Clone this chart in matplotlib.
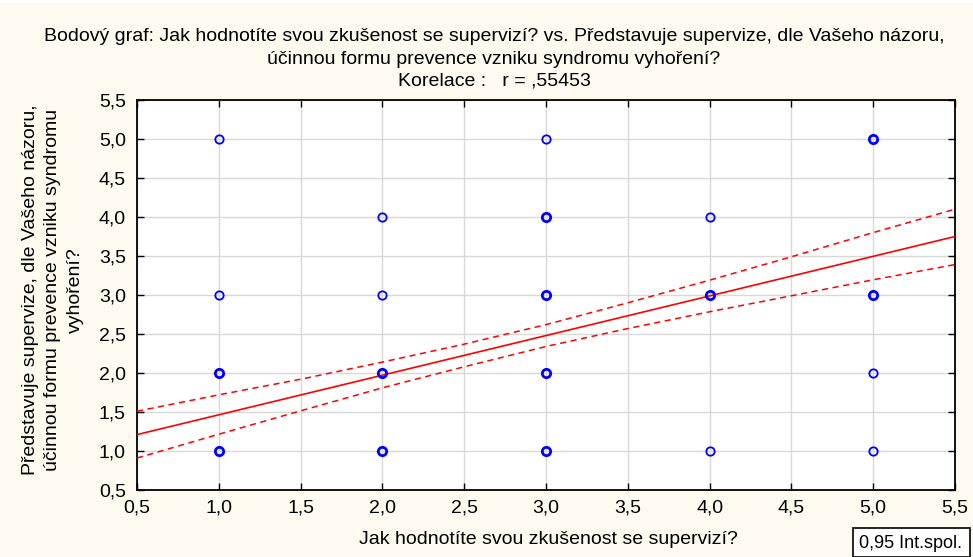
import matplotlib
matplotlib.use("Agg")
import matplotlib.pyplot as plt
from matplotlib.ticker import FuncFormatter, MultipleLocator
from matplotlib.patches import Rectangle

plt.rcParams['font.family'] = ['Liberation Sans', 'DejaVu Sans']

# Observed response combinations (x, y) and whether several responses overlap
pt_x = [1, 1, 1, 1, 2, 2, 2, 2, 3, 3, 3, 3, 3, 4, 4, 4, 5, 5, 5, 5]
pt_y = [5, 3, 2, 1, 4, 3, 2, 1, 5, 4, 3, 2, 1, 4, 3, 1, 5, 3, 2, 1]
pt_n = [1, 1, 2, 2, 1, 1, 2, 2, 1, 2, 2, 2, 2, 1, 2, 1, 2, 2, 1, 1]

# Regression line (read at axis ends)
fit_x = [0.5, 5.5]
fit_y = [1.21, 3.75]

# 0.95 confidence band
ci_x = [0.5, 1.0, 1.5, 2.0, 2.5, 3.0, 3.5, 4.0, 4.5, 5.0, 5.5]
ci_upper = [1.51, 1.72, 1.92, 2.14, 2.37, 2.62, 2.90, 3.19, 3.49, 3.80, 4.10]
ci_lower = [0.91, 1.215, 1.515, 1.81, 2.08, 2.34, 2.57, 2.785, 2.99, 3.195, 3.39]

title = ("Bodový graf: Jak hodnotíte svou zkušenost se supervizí? vs. Představuje supervize, dle Vašeho názoru,\n"
         "účinnou formu prevence vzniku syndromu vyhoření?\n"
         "Korelace :   r = ,55453")
xlabel = "Jak hodnotíte svou zkušenost se supervizí?"
ylabel = ("Představuje supervize, dle Vašeho názoru,\n"
          "účinnou formu prevence vzniku syndromu\n"
          "vyhoření?")
legend_text = "0,95 Int.spol."

W, H = 973, 557
bg = '#FFFAEF'
fig = plt.figure(figsize=(W/100, H/100), dpi=100, facecolor=bg)
fig.patches.append(Rectangle((0, 1 - 3/H), 1, 3/H, transform=fig.transFigure,
                             facecolor='white', edgecolor='none', zorder=0))
ax = fig.add_axes([137/W, 1 - 490/H, (955-137)/W, (490-100)/H])
ax.set_facecolor('white')

ax.set_xlim(0.5, 5.5)
ax.set_ylim(0.5, 5.5)
ax.xaxis.set_major_locator(MultipleLocator(0.5))
ax.yaxis.set_major_locator(MultipleLocator(0.5))
fmt = FuncFormatter(lambda v, p: f"{v:.1f}".replace('.', ','))
ax.xaxis.set_major_formatter(fmt)
ax.yaxis.set_major_formatter(fmt)
ax.grid(True, color='#D8D8D8', linewidth=1.0)
ax.set_axisbelow(True)
ax.tick_params(direction='in', length=5, width=1, top=True, right=True,
               labelsize=14, colors='black')
ax.tick_params(axis='y', pad=8)
ax.tick_params(axis='x', pad=7)
for s in ax.spines.values():
    s.set_linewidth(1.3)
    s.set_color('black')

ax.plot(fit_x, fit_y, color='red', linewidth=1.2, zorder=3)
ax.plot(ci_x, ci_upper, color='red', linewidth=1.1, linestyle=(0, (4, 3)), zorder=3)
ax.plot(ci_x, ci_lower, color='red', linewidth=1.1, linestyle=(0, (4, 3)), zorder=3)

for x, y, n in zip(pt_x, pt_y, pt_n):
    ax.plot(x, y, marker='o', markersize=6, markerfacecolor='none',
            markeredgecolor='#0000FF', markeredgewidth=1.3 if n == 1 else 2.0,
            linestyle='none', zorder=4)

fig.text(494/W, 1 - 59/H, title, ha='center', va='center', fontsize=14,
         linespacing=1.42)
fig.text(548/W, 1 - 540/H, xlabel, ha='center', va='center', fontsize=14)
fig.text(53/W, 1 - 290/H, ylabel, ha='center', va='center', fontsize=14,
         rotation=90, linespacing=1.45)

fig.patches.append(Rectangle((853/W, 1 - 557/H), (970-853)/W, (557-528)/H,
                             transform=fig.transFigure, facecolor='white',
                             edgecolor='black', linewidth=1.2, zorder=5))
fig.text(859/W, 1 - 543/H, legend_text, ha='left', va='center', fontsize=13,
         zorder=6)

fig.savefig('out.png', dpi=100, facecolor=bg)
